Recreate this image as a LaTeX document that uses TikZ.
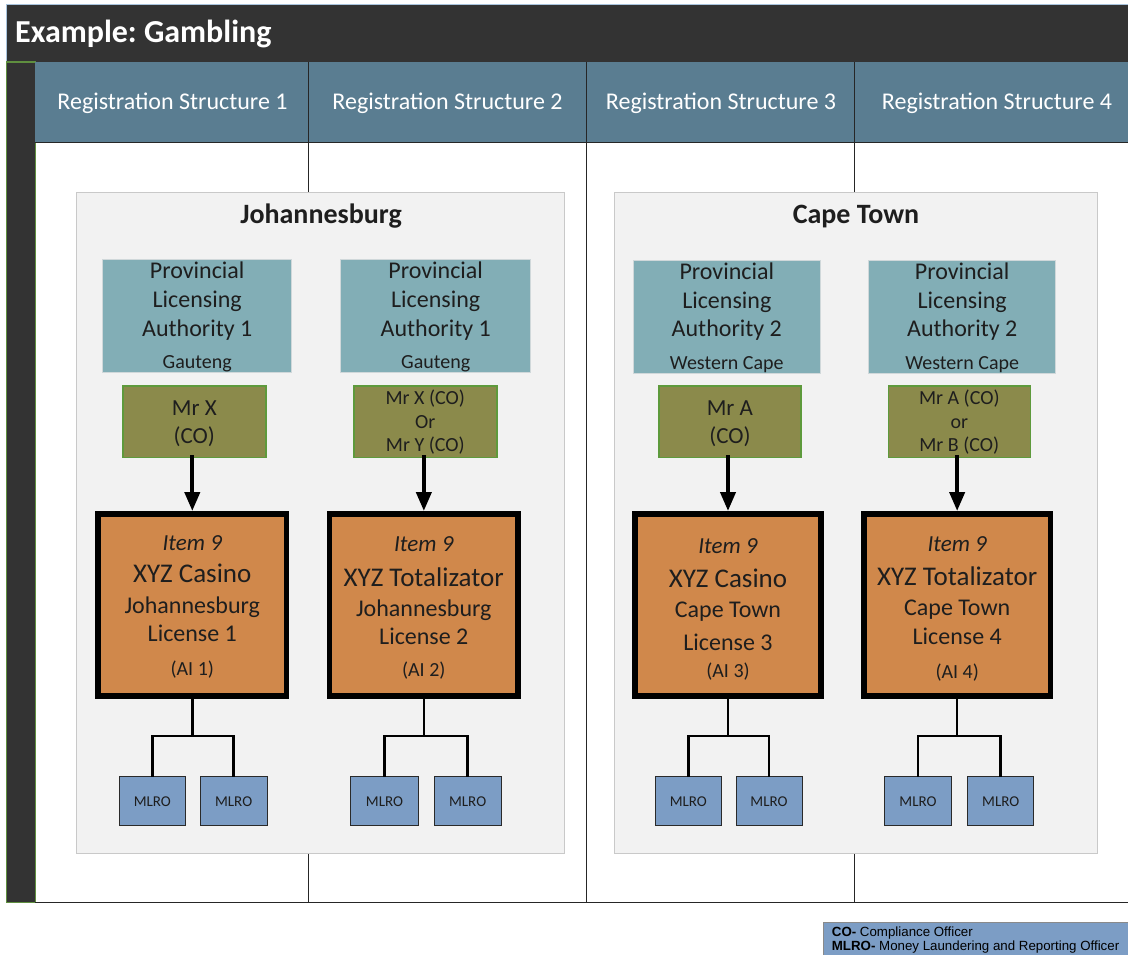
\documentclass[tikz,border=0pt]{standalone}
\usepackage{fontspec}
\setmainfont{Carlito}
\newfontfamily\legendfont{Liberation Sans}
\usetikzlibrary{fit,arrows.meta}
\frenchspacing

\definecolor{darkbar}{HTML}{333333}
\definecolor{headfill}{HTML}{5A7D91}
\definecolor{sidegreen}{HTML}{5F8F3F}
\definecolor{contfill}{HTML}{F2F2F2}
\definecolor{contborder}{HTML}{C9C9C9}
\definecolor{plafill}{HTML}{82AEB6}
\definecolor{plaborder}{HTML}{D0D8DA}
\definecolor{cofill}{HTML}{8B8A4B}
\definecolor{coborder}{HTML}{5E9A3C}
\definecolor{licfill}{HTML}{D0884B}
\definecolor{mlrofill}{HTML}{7C9DC5}
\definecolor{mlroborder}{HTML}{2A2A2A}
\definecolor{legborder}{HTML}{8A8A8A}
\definecolor{textdark}{HTML}{1E1E1E}
\definecolor{topline}{HTML}{A9C4DD}

\newcommand{\fsz}[1]{\fontsize{#1}{#1}\selectfont}

\begin{document}
\begin{tikzpicture}[x=1pt,y=-1pt,
  txt/.style={inner sep=0pt, anchor=base, text=textdark},
  headtxt/.style={inner sep=0pt, anchor=base, text=white},
  container/.style={draw=contborder, fill=contfill, line width=1pt, inner sep=0pt},
  plabox/.style={draw=plaborder, fill=plafill, line width=1pt, inner sep=0pt},
  cobox/.style={draw=coborder, fill=cofill, line width=1.6pt, inner sep=0pt},
  licbox/.style={draw=black, fill=licfill, line width=5.6pt, inner sep=0pt},
  mlrobox/.style={draw=mlroborder, fill=mlrofill, line width=1pt, inner sep=0pt},
  legbox/.style={draw=legborder, fill=mlrofill, line width=0.8pt, inner sep=0pt},
  arr/.style={line width=4pt, -{Triangle[width=15pt,length=19pt]}},
  tree/.style={line width=2.5pt},
  divider/.style={draw=black!85, line width=1pt}
]
\useasboundingbox (0,0) rectangle (1128,955);
\clip (0,0) rectangle (1128,955);
\fill[white] (0,0) rectangle (1128,955);

% title bar
\fill[darkbar] (6.7,4.7) rectangle (1130,62);
\draw[topline, line width=1pt] (1130,4.7) -- (6.7,4.7) -- (6.7,62);
\node[headtxt, anchor=base west] (title) at (15,43) {\fsz{32}\bfseries Example: Gambling};

% left sidebar
\node[draw=sidegreen, fill=darkbar, line width=1.2pt, inner sep=0pt, fit={(6.7,62) (35.3,902.7)}] (side) {};

% header row
\fill[headfill] (35.3,62) rectangle (1130,142.7);
\draw[divider] (35.3,142.7) -- (1130,142.7);
\draw[divider] (35.3,902.7) -- (1130,902.7);
\draw[divider] (308.3,62) -- (308.3,902.7);
\draw[divider] (586,62) -- (586,902.7);
\draw[divider] (854.3,62) -- (854.3,902.7);
\node[headtxt] (h1) at (172.5,110) {\fsz{24}Registration Structure 1};
\node[headtxt] (h2) at (447.5,110) {\fsz{24}Registration Structure 2};
\node[headtxt] (h3) at (721,110) {\fsz{24}Registration Structure 3};
\node[headtxt] (h4) at (997,110) {\fsz{24}Registration Structure 4};

% containers
\node[container, fit={(76.7,192.3) (564,853.3)}] (jhb) {};
\node[container, fit={(614,192.3) (1097.3,853.3)}] (cpt) {};
\node[txt] (jhbt) at (321,223) {\fsz{28}\bfseries Johannesburg};
\node[txt] (cptt) at (856,223) {\fsz{28}\bfseries Cape Town};

% provincial licensing authorities
\node[plabox, fit={(102.7,259) (291.7,372.7)}] (pla1) {};
\node[plabox, fit={(340.7,259) (530.7,372.7)}] (pla2) {};
\node[plabox, fit={(633.3,260) (820.3,373.7)}] (pla3) {};
\node[plabox, fit={(868.7,260) (1055.7,373.7)}] (pla4) {};

\node[txt] (pla1a) at (197.2,278.3) {\fsz{24}Provincial};
\node[txt] (pla1b) at (197.2,307.3) {\fsz{24}Licensing};
\node[txt] (pla1c) at (197.2,336) {\fsz{24}Authority 1};
\node[txt] (pla1d) at (197.2,368.3) {\fsz{20}Gauteng};

\node[txt] (pla2a) at (435.7,278.3) {\fsz{24}Provincial};
\node[txt] (pla2b) at (435.7,307.3) {\fsz{24}Licensing};
\node[txt] (pla2c) at (435.7,336) {\fsz{24}Authority 1};
\node[txt] (pla2d) at (435.7,368.3) {\fsz{20}Gauteng};

\node[txt] (pla3a) at (726.8,279.3) {\fsz{24}Provincial};
\node[txt] (pla3b) at (726.8,308.3) {\fsz{24}Licensing};
\node[txt] (pla3c) at (726.8,336.7) {\fsz{24}Authority 2};
\node[txt] (pla3d) at (726.8,369.3) {\fsz{20}Western Cape};

\node[txt] (pla4a) at (962.2,279.3) {\fsz{24}Provincial};
\node[txt] (pla4b) at (962.2,308.3) {\fsz{24}Licensing};
\node[txt] (pla4c) at (962.2,336.7) {\fsz{24}Authority 2};
\node[txt] (pla4d) at (962.2,369.3) {\fsz{20}Western Cape};

% compliance officers
\node[cobox, fit={(122.7,385.7) (266,457.3)}] (co1) {};
\node[cobox, fit={(354,385.7) (496.7,457.3)}] (co2) {};
\node[cobox, fit={(658.7,385.7) (801,457.3)}] (co3) {};
\node[cobox, fit={(888.3,385.7) (1030.3,457.3)}] (co4) {};

\node[txt] (co1a) at (194.3,415) {\fsz{23}Mr X};
\node[txt] (co1b) at (194.3,443.3) {\fsz{23}(CO)};
\node[txt] (co2a) at (425.3,404) {\fsz{20}Mr X (CO)};
\node[txt] (co2b) at (425.3,428.3) {\fsz{20}Or};
\node[txt] (co2c) at (425.3,451.7) {\fsz{20}Mr Y (CO)};
\node[txt] (co3a) at (729.9,415) {\fsz{23}Mr A};
\node[txt] (co3b) at (729.9,443.3) {\fsz{23}(CO)};
\node[txt] (co4a) at (959.3,404) {\fsz{20}Mr A (CO)};
\node[txt] (co4b) at (959.3,428.3) {\fsz{20}or};
\node[txt] (co4c) at (959.3,451.7) {\fsz{20}Mr B (CO)};

% licences
\node[licbox, fit={(98.1,513.8) (286.5,696.2)}] (lic1) {};
\node[licbox, fit={(329.5,513.8) (518.2,696.2)}] (lic2) {};
\node[licbox, fit={(634.8,513.8) (821.2,696.2)}] (lic3) {};
\node[licbox, fit={(863.8,513.8) (1050.5,696.2)}] (lic4) {};

\node[txt] (lic1a) at (192.3,550) {\fsz{23}\itshape Item 9};
\node[txt] (lic1b) at (192.3,582.7) {\fsz{27}XYZ Casino};
\node[txt] (lic1c) at (192.3,613.3) {\fsz{24}Johannesburg};
\node[txt] (lic1d) at (192.3,641.7) {\fsz{24}License 1};
\node[txt] (lic1e) at (192.3,675) {\fsz{20}(AI 1)};

\node[txt] (lic2a) at (423.8,551.7) {\fsz{23}\itshape Item 9};
\node[txt] (lic2b) at (423.8,586) {\fsz{27}XYZ Totalizator};
\node[txt] (lic2c) at (423.8,616) {\fsz{24}Johannesburg};
\node[txt] (lic2d) at (423.8,644) {\fsz{24}License 2};
\node[txt] (lic2e) at (423.8,676.7) {\fsz{20}(AI 2)};

\node[txt] (lic3a) at (728,553.3) {\fsz{23}\itshape Item 9};
\node[txt] (lic3b) at (728,587.7) {\fsz{27}XYZ Casino};
\node[txt] (lic3c) at (728,617.3) {\fsz{24}Cape Town};
\node[txt] (lic3d) at (728,650) {\fsz{24}License 3};
\node[txt] (lic3e) at (728,677.3) {\fsz{20}(AI 3)};

\node[txt] (lic4a) at (957.2,551.7) {\fsz{23}\itshape Item 9};
\node[txt] (lic4b) at (957.2,585) {\fsz{27}XYZ Totalizator};
\node[txt] (lic4c) at (957.2,615) {\fsz{24}Cape Town};
\node[txt] (lic4d) at (957.2,644) {\fsz{24}License 4};
\node[txt] (lic4e) at (957.2,678.3) {\fsz{20}(AI 4)};

% arrows CO -> licence
\draw[arr] ([yshift=3pt]lic1.north |- co1.south) -- (lic1.north);
\draw[arr] ([yshift=3pt]lic2.north |- co2.south) -- (lic2.north);
\draw[arr] ([yshift=3pt]lic3.north |- co3.south) -- (lic3.north);
\draw[arr] ([yshift=3pt]lic4.north |- co4.south) -- (lic4.north);

% MLRO boxes
\node[mlrobox, fit={(119,776) (185.7,825.7)}] (m1a) {};
\node[mlrobox, fit={(200.3,776) (267,825.7)}] (m1b) {};
\node[mlrobox, fit={(350.7,776) (418.3,825.7)}] (m2a) {};
\node[mlrobox, fit={(434.3,776) (501,825.7)}] (m2b) {};
\node[mlrobox, fit={(655.3,776) (721.3,825.7)}] (m3a) {};
\node[mlrobox, fit={(736,776) (802,825.7)}] (m3b) {};
\node[mlrobox, fit={(884.3,776) (951.7,825.7)}] (m4a) {};
\node[mlrobox, fit={(967.7,776) (1033.7,825.7)}] (m4b) {};

\foreach \m in {m1a,m1b,m2a,m2b,m3a,m3b,m4a,m4b}{
  \node[txt, anchor=center, yshift=-0.5pt] (\m t) at (\m.center) {\fsz{15}MLRO};
}

% tree connectors
\foreach \i in {1,2,3,4}{
  \draw[tree] (lic\i.south) -- ++(0,37.1) coordinate (b\i);
  \draw[tree, line cap=rect] (m\i a.north) |- (b\i) -| (m\i b.north);
}

% legend
\node[legbox, fit={(823.3,922.3) (1132,958)}] (leg) {};
\node[inner sep=0pt, anchor=base west, text=black] (leg1) at (831.7,936) {\legendfont\fsz{13.3}\bfseries CO-\mdseries\ Compliance Officer};
\node[inner sep=0pt, anchor=base west, text=black] (leg2) at (831.7,950.7) {\legendfont\fsz{13.3}\bfseries MLRO-\mdseries\ Money Laundering and Reporting Officer};
\end{tikzpicture}
\end{document}
